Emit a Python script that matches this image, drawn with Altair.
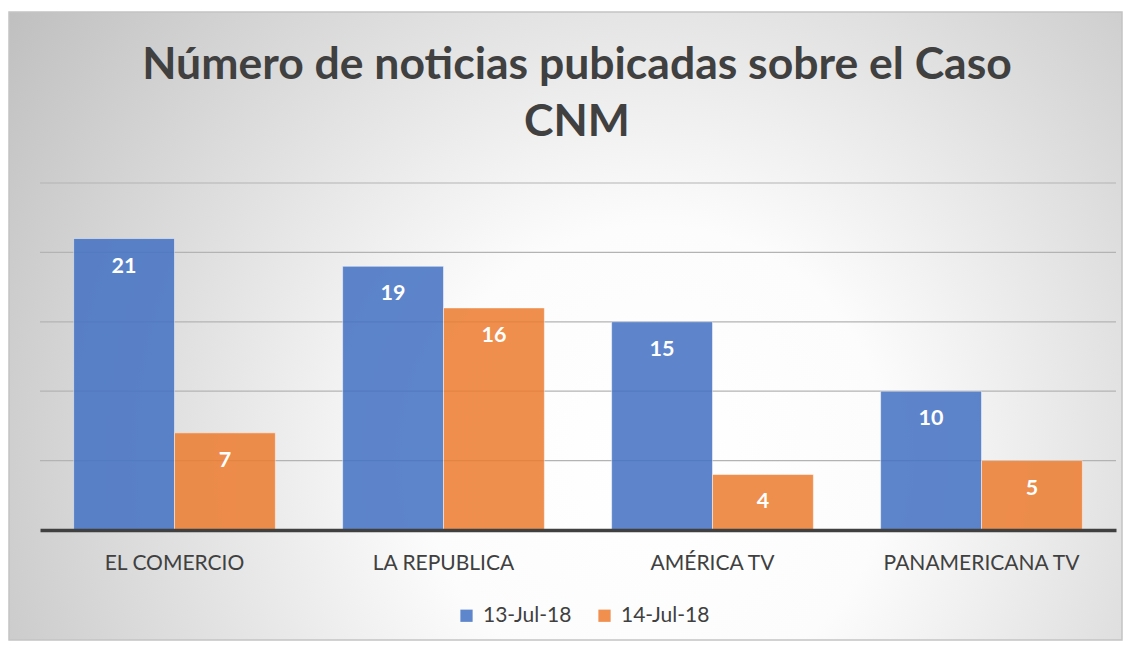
import altair as alt
import pandas as pd

outlets = ["EL COMERCIO", "LA REPUBLICA", "AMÉRICA TV", "PANAMERICANA TV"]
dates = ["13-Jul-18", "14-Jul-18"]
values_13 = [21, 19, 15, 10]
values_14 = [7, 16, 4, 5]
grid_values = [5, 10, 15, 20, 25]
colors = ["#4472C4", "#ED7D31"]
title_lines = ["Número de noticias pubicadas sobre el Caso", "CNM"]

rows = []
for o, a, b in zip(outlets, values_13, values_14):
    rows.append({"outlet": o, "date": dates[0], "value": a})
    rows.append({"outlet": o, "date": dates[1], "value": b})
df = pd.DataFrame(rows)
grid_df = pd.DataFrame({"g": grid_values})

W, H = 1076, 347
FONT = "Lato"

x_enc = alt.X("outlet:N", sort=outlets,
              scale=alt.Scale(paddingInner=0.25, paddingOuter=0.125),
              axis=alt.Axis(title=None, labelAngle=0, ticks=False, domain=True,
                            domainColor="#404040", domainWidth=3.5,
                            labelFont=FONT, labelFontSize=21, labelColor="#404040",
                            labelPadding=22, labelLimit=400, zindex=1))
y_scale = alt.Scale(domain=[0, 25], nice=False)

one = pd.DataFrame({"a": [0]})

bg = alt.Chart(one).mark_rect(
    fill={"gradient": "radial", "x1": 0.58, "y1": 0.62, "r1": 0.0,
          "x2": 0.58, "y2": 0.62, "r2": 0.75,
          "stops": [{"offset": 0, "color": "#ffffff"},
                    {"offset": 0.28, "color": "#fcfcfc"},
                    {"offset": 1, "color": "#bababa"}]},
    stroke="#c4c4c4", strokeWidth=1.5
).encode(x=alt.value(-31), x2=alt.value(W + 6), y=alt.value(-171), y2=alt.value(H + 110))

title = alt.Chart(one).mark_text(
    text=title_lines, font=FONT, fontSize=44.5, fontWeight="bold", color="#404040",
    lineHeight=57, baseline="alphabetic", align="center"
).encode(x=alt.value(W / 2 - 1), y=alt.value(-104))

grid = alt.Chart(grid_df).mark_rule(color="#b3b3b3", strokeWidth=1.2).encode(
    y=alt.Y("g:Q", scale=y_scale, axis=None)
)

bars = alt.Chart(df).mark_bar(opacity=0.86, stroke="#ffffff", strokeOpacity=0.5, strokeWidth=1).encode(
    x=x_enc,
    xOffset=alt.XOffset("date:N", sort=dates, scale=alt.Scale(paddingInner=0, paddingOuter=0)),
    y=alt.Y("value:Q", scale=y_scale, axis=None),
    color=alt.Color("date:N", sort=dates, scale=alt.Scale(domain=dates, range=colors),
                    legend=alt.Legend(title=None, orient="none", direction="horizontal",
                                      legendX=416, legendY=422,
                                      symbolType="square", symbolSize=150, symbolOpacity=0.86,
                                      symbolStrokeWidth=0,
                                      labelFont=FONT, labelFontSize=21, labelColor="#404040",
                                      labelOffset=6, columnPadding=22)),
)

labels = alt.Chart(df).mark_text(baseline="top", dy=17, color="white", font=FONT,
                                 fontSize=21.5, fontWeight="bold").encode(
    x=alt.X("outlet:N", sort=outlets),
    xOffset=alt.XOffset("date:N", sort=dates),
    y=alt.Y("value:Q", scale=y_scale),
    text=alt.Text("value:Q"),
)

chart = alt.layer(bg, title, grid, bars, labels).properties(
    width=W, height=H,
    autosize=alt.AutoSizeParams(type="none"),
    padding={"left": 32, "top": 175, "right": 10, "bottom": 112},
).configure_view(stroke=None).configure(background="white")

chart.save("out.html", embed_options={"renderer": "svg", "actions": False})
